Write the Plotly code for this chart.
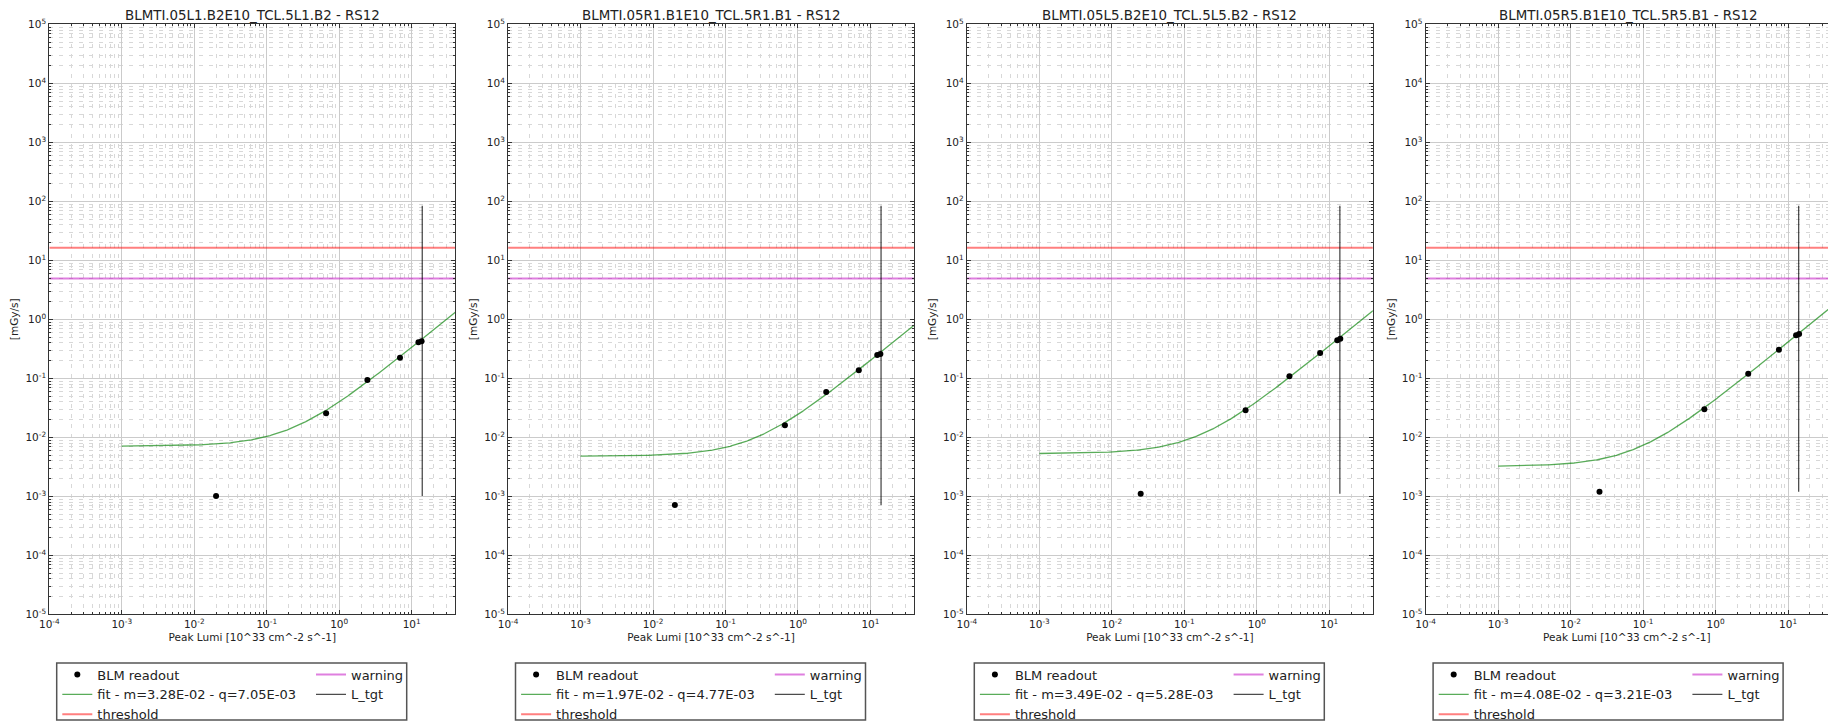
import numpy as np
import plotly.graph_objects as go

W, H = 1828, 721

# ---- data -------------------------------------------------------------
titles = [
    "BLMTI.05L1.B2E10_TCL.5L1.B2 - RS12",
    "BLMTI.05R1.B1E10_TCL.5R1.B1 - RS12",
    "BLMTI.05L5.B2E10_TCL.5L5.B2 - RS12",
    "BLMTI.05R5.B1E10_TCL.5R5.B1 - RS12",
]
# peak luminosity of the fills [10^33 cm^-2 s^-1], IP1 and IP5
lumi_ip1 = [0.020, 0.66, 2.45, 6.9, 12.4, 13.7]
lumi_ip5 = [0.025, 0.70, 2.82, 7.48, 12.9, 14.2]
lumi = [lumi_ip1, lumi_ip1, lumi_ip5, lumi_ip5]

# BLM readout (RS12) [mGy/s]
readout_05L1 = [1.01e-3, 0.0255, 0.0936, 0.223, 0.408, 0.424]
readout_05R1 = [7.1e-4, 0.0160, 0.0588, 0.137, 0.249, 0.259]
readout_05L5 = [1.11e-3, 0.0287, 0.108, 0.269, 0.440, 0.466]
readout_05R5 = [1.19e-3, 0.0300, 0.119, 0.305, 0.535, 0.563]
readout = [readout_05L1, readout_05R1, readout_05L5, readout_05R5]

# linear fit parameters: dose = m * lumi + q
fit_m = [3.28e-2, 1.97e-2, 3.49e-2, 4.08e-2]
fit_q = [7.05e-3, 4.77e-3, 5.28e-3, 3.21e-3]

threshold = 16.3      # mGy/s
warning = 4.9         # mGy/s
l_tgt = 14.0          # target peak luminosity
l_tgt_top = 84.0      # upper end of the L_tgt marker line
lumi_limits = [1e-4, 40.0]
dose_limits = [1e-5, 1e5]
fit_lumi_min = 1e-3

x_tickvals = [1e-4, 1e-3, 1e-2, 1e-1, 1e0, 1e1]
x_ticktext = ["10<sup>-4</sup>", "10<sup>-3</sup>", "10<sup>-2</sup>",
              "10<sup>-1</sup>", "10<sup>0</sup>", "10<sup>1</sup>"]
y_tickvals = [1e-5, 1e-4, 1e-3, 1e-2, 1e-1, 1e0, 1e1, 1e2, 1e3, 1e4, 1e5]
y_ticktext = ["10<sup>-5</sup>", "10<sup>-4</sup>", "10<sup>-3</sup>",
              "10<sup>-2</sup>", "10<sup>-1</sup>", "10<sup>0</sup>",
              "10<sup>1</sup>", "10<sup>2</sup>", "10<sup>3</sup>",
              "10<sup>4</sup>", "10<sup>5</sup>"]

# ---- layout geometry (pixels) ----------------------------------------
panel_left = [49.3, 508.1, 966.9, 1425.7]
panel_w = 406.0
plot_top, plot_bottom = 24.3, 614.3
title_y = 15.8
legend_box_left, legend_box_w = 7.4, 350.0
legend_box_top, legend_box_bottom = 663.0, 720.0
legend_col_x = [8.0, 261.7]
legend_top = 659.5

FONT = "DejaVu Sans"
TXT = "#222222"
AX = "#333333"
x_minor = [k * 10.0 ** e for e in range(-5, 3) for k in range(2, 10)]
y_minor = [k * 10.0 ** e for e in range(-6, 6) for k in range(2, 10)]

fig = go.Figure()

log_lo, log_hi = np.log10(lumi_limits[0]), np.log10(lumi_limits[1])
decade_px = panel_w / (log_hi - log_lo)

for i in range(4):
    n = i + 1
    xa = "x" if n == 1 else f"x{n}"
    ya = "y" if n == 1 else f"y{n}"
    lg_a = f"legend{2 * i + 1}" if i > 0 else "legend"
    lg_b = f"legend{2 * i + 2}"

    fit_x = np.logspace(np.log10(fit_lumi_min), log_hi, 300)
    fit_y = fit_m[i] * fit_x + fit_q[i]

    ax_ref = dict(xaxis=xa, yaxis=ya)
    fig.add_trace(go.Scatter(
        x=lumi_limits, y=[threshold, threshold], mode="lines",
        line=dict(color="rgba(255,0,0,0.5)", width=2),
        name="threshold", legend=lg_a, legendrank=3, **ax_ref))
    fig.add_trace(go.Scatter(
        x=lumi_limits, y=[warning, warning], mode="lines",
        line=dict(color="rgba(191,0,191,0.5)", width=2),
        name="warning", legend=lg_b, legendrank=1, **ax_ref))
    fig.add_trace(go.Scatter(
        x=fit_x, y=fit_y, mode="lines",
        line=dict(color="rgba(0,128,0,0.65)", width=1.3),
        name=f"fit - m={fit_m[i]:.2E} - q={fit_q[i]:.2E}",
        legend=lg_a, legendrank=2, **ax_ref))
    fig.add_trace(go.Scatter(
        x=[l_tgt, l_tgt], y=[min(readout[i]), l_tgt_top], mode="lines",
        line=dict(color="rgba(0,0,0,0.7)", width=1.3),
        name="L_tgt", legend=lg_b, legendrank=2, **ax_ref))
    fig.add_trace(go.Scatter(
        x=lumi[i], y=readout[i], mode="markers",
        marker=dict(color="black", size=6),
        name="BLM readout", legend=lg_a, legendrank=1, **ax_ref))

    left = panel_left[i]
    right = left + panel_w
    hi = log_hi
    if right > W:
        # the last panel runs past the page edge: cut its range there
        hi = log_hi - (right - W) / decade_px
        right = W
    dom_x = [left / W, right / W]
    dom_y = [1 - plot_bottom / H, 1 - plot_top / H]

    axis_common = dict(
        type="log", showline=True, linecolor=AX, linewidth=1.2,
        ticks="inside", ticklen=4, tickcolor=AX, tickmode="array",
        tickfont=dict(family=FONT, size=10.5, color=TXT),
        showgrid=True, gridcolor="#cbcbcb", gridwidth=1,
        title_font=dict(family=FONT, size=10.5, color=TXT),
    )
    minor_common = dict(tickmode="array", ticks="inside", ticklen=2,
                        tickcolor=AX, showgrid=True, gridcolor="#d8d8d8",
                        griddash="4px,6px", gridwidth=1)
    fig.layout[f"xaxis{'' if n == 1 else n}"] = dict(
        axis_common, domain=dom_x, anchor=ya, range=[log_lo, hi],
        mirror="ticks", tickvals=x_tickvals, ticktext=x_ticktext,
        title=dict(text="Peak Lumi [10^33 cm^-2 s^-1]", standoff=4),
        minor=dict(minor_common, tickvals=x_minor),
    )
    fig.layout[f"yaxis{'' if n == 1 else n}"] = dict(
        axis_common, domain=dom_y, anchor=xa,
        range=[np.log10(dose_limits[0]), np.log10(dose_limits[1])],
        mirror="ticks" if n < 4 else False,
        tickvals=y_tickvals, ticktext=y_ticktext,
        title=dict(text="[mGy/s]", standoff=4),
        minor=dict(minor_common, tickvals=y_minor),
    )

    # two-column legend: one plotly legend per column inside a common frame
    for lg, cx in ((lg_a, legend_col_x[0]), (lg_b, legend_col_x[1])):
        fig.layout[lg] = dict(
            orientation="v", x=(left + cx) / W, y=1 - legend_top / H,
            xanchor="left", yanchor="top", traceorder="normal",
            bgcolor="rgba(0,0,0,0)", borderwidth=0,
            font=dict(family=FONT, size=13, color=TXT),
        )
    fig.add_shape(
        type="rect", xref="paper", yref="paper", layer="above",
        x0=(left + legend_box_left) / W,
        x1=(left + legend_box_left + legend_box_w) / W,
        y0=1 - legend_box_bottom / H, y1=1 - legend_box_top / H,
        line=dict(color="#555555", width=1.5), fillcolor="rgba(0,0,0,0)",
    )

    fig.add_annotation(
        text=titles[i], xref="paper", yref="paper",
        x=(panel_left[i] + panel_w / 2) / W, y=1 - title_y / H,
        xanchor="center", yanchor="middle", showarrow=False,
        font=dict(family=FONT, size=13.4, color=TXT),
    )

fig.update_layout(
    width=W, height=H,
    margin=dict(l=0, r=0, t=0, b=0, autoexpand=False),
    paper_bgcolor="white", plot_bgcolor="white",
    font=dict(family=FONT, color=TXT),
    showlegend=True,
)

fig.write_html("out.html")
